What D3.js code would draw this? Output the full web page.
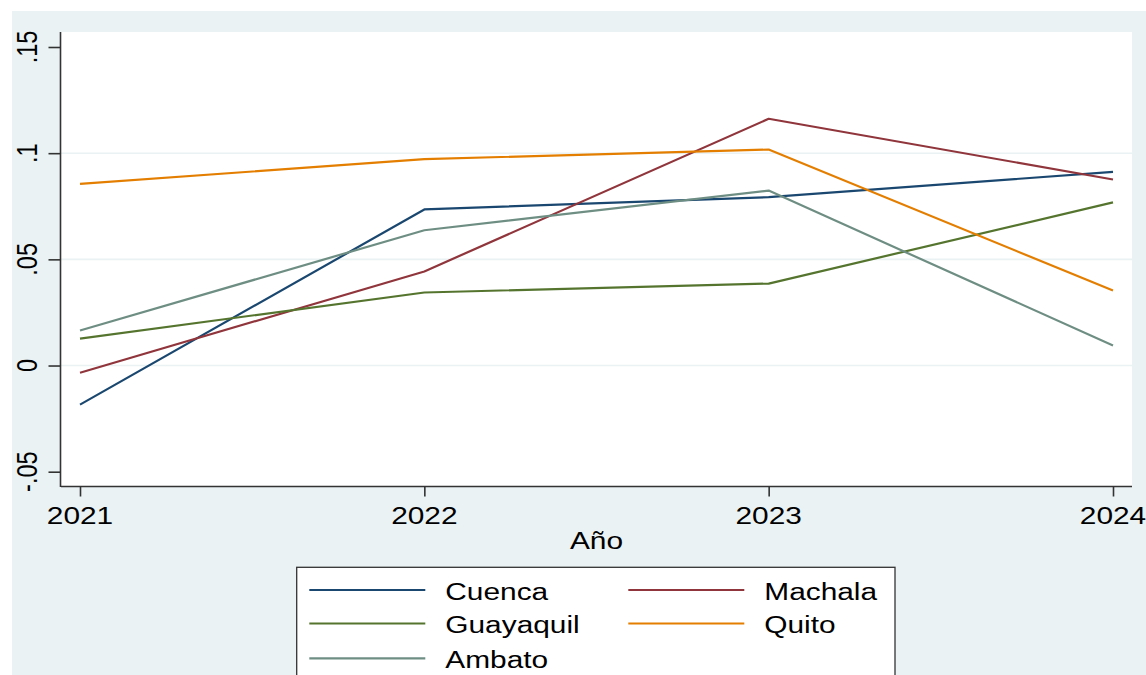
<!DOCTYPE html>
<html lang="es">
<head>
<meta charset="UTF-8">
<title>Año</title>
<script src="https://d3js.org/d3.v7.min.js"></script>
<style>
  body { margin: 0; background: #fff; }
  svg { display: block; font-family: "Liberation Sans", Arial, sans-serif; }
</style>
</head>
<body>
<div id="chart"></div>
<script>
// data
var years = [2021, 2022, 2023, 2024];
var cuenca    = [-0.0184, 0.0735, 0.0793, 0.0912];
var machala   = [-0.0034, 0.0443, 0.1162, 0.0876];
var guayaquil = [0.0127, 0.0344, 0.0386, 0.0768];
var quito     = [0.0855, 0.0972, 0.1017, 0.0353];
var ambato    = [0.0165, 0.0637, 0.0824, 0.0094];
var yTicks = [-0.05, 0, 0.05, 0.1, 0.15];
var yTickLabels = ["-.05", "0", ".05", ".1", ".15"];
var gridTicks = [0, 0.05, 0.1];

var series = [
  { name: "Cuenca", values: cuenca, color: "#1a476f" },
  { name: "Machala", values: machala, color: "#90353b" },
  { name: "Guayaquil", values: guayaquil, color: "#55752f" },
  { name: "Quito", values: quito, color: "#e37e00" },
  { name: "Ambato", values: ambato, color: "#6e8e84" }
];

var width = 1146, height = 675;
var stretch = 1.27;   // text in the original is drawn wide
var fontSize = 23.5;

var svg = d3.select("#chart").append("svg")
  .attr("width", width)
  .attr("height", height);

// graph region
svg.append("rect")
  .attr("x", 12).attr("y", 11)
  .attr("width", width - 12).attr("height", height - 11)
  .attr("fill", "#eaf2f3");

// plot region
var plot = { left: 61, right: 1132, top: 32, bottom: 487 };
svg.append("rect")
  .attr("x", plot.left).attr("y", plot.top)
  .attr("width", plot.right - plot.left).attr("height", plot.bottom - plot.top)
  .attr("fill", "#fff");

var x = d3.scaleLinear().domain([2021, 2024]).range([80, 1113]);
var y = d3.scaleLinear().domain([-0.05, 0.15]).range([471.7, 47]);

// grid lines
svg.selectAll(".grid")
  .data(gridTicks)
  .enter().append("line")
  .attr("x1", plot.left).attr("x2", plot.right)
  .attr("y1", function (d) { return y(d); })
  .attr("y2", function (d) { return y(d); })
  .attr("stroke", "#eaf2f3")
  .attr("stroke-width", 1.6);

// series lines
var line = d3.line()
  .x(function (d, i) { return x(years[i]); })
  .y(function (d) { return y(d); });

svg.selectAll(".series")
  .data(series)
  .enter().append("path")
  .attr("d", function (d) { return line(d.values); })
  .attr("fill", "none")
  .attr("stroke", function (d) { return d.color; })
  .attr("stroke-width", 2.2)
  .attr("stroke-linejoin", "round");

// y axis
var yAxis = svg.append("g")
  .attr("transform", "translate(" + (plot.left - 0.5) + ",0)")
  .call(d3.axisLeft(y).tickValues(yTicks).tickSize(12).tickFormat(""));
yAxis.select(".domain")
  .attr("d", "M0," + plot.top + "V" + plot.bottom)
  .attr("stroke", "#333").attr("stroke-width", 1.6);
yAxis.selectAll(".tick line").attr("stroke", "#333").attr("stroke-width", 1.6);

svg.selectAll(".ylab")
  .data(yTicks)
  .enter().append("text")
  .attr("transform", function (d) {
    return "translate(36.5," + y(d) + ") scale(" + stretch + ",1) rotate(-90)";
  })
  .attr("text-anchor", "middle")
  .attr("font-size", fontSize)
  .attr("fill", "#000")
  .text(function (d, i) { return yTickLabels[i]; });

// x axis
var xAxis = svg.append("g")
  .attr("transform", "translate(0," + (plot.bottom - 0.5) + ")")
  .call(d3.axisBottom(x).tickValues(years).tickSize(10).tickFormat(""));
xAxis.select(".domain")
  .attr("d", "M" + plot.left + ",0H" + plot.right)
  .attr("stroke", "#333").attr("stroke-width", 1.6);
xAxis.selectAll(".tick line").attr("stroke", "#333").attr("stroke-width", 1.6);

svg.selectAll(".xlab")
  .data(years)
  .enter().append("text")
  .attr("transform", function (d) {
    return "translate(" + x(d) + ",524) scale(" + stretch + ",1)";
  })
  .attr("text-anchor", "middle")
  .attr("font-size", fontSize)
  .attr("fill", "#000")
  .text(function (d) { return d; });

svg.append("text")
  .attr("transform", "translate(" + ((plot.left + plot.right) / 2) + ",549.3) scale(" + stretch + ",1)")
  .attr("text-anchor", "middle")
  .attr("font-size", fontSize)
  .attr("fill", "#000")
  .text("Año");

// legend
svg.append("rect")
  .attr("x", 296.7).attr("y", 567.3)
  .attr("width", 895 - 296.7).attr("height", 140)
  .attr("fill", "#fff")
  .attr("stroke", "#333").attr("stroke-width", 1.3);

var legendCols = [309.3, 628.3];
var legendRows = [590, 623.5, 658.3];

var items = svg.selectAll(".legend")
  .data(series)
  .enter().append("g")
  .attr("transform", function (d, i) {
    return "translate(" + legendCols[i % 2] + "," + legendRows[Math.floor(i / 2)] + ")";
  });

items.append("line")
  .attr("x1", 0).attr("x2", 116)
  .attr("stroke", function (d) { return d.color; })
  .attr("stroke-width", 2.2);

items.append("text")
  .attr("transform", "translate(136,9.5) scale(" + stretch + ",1)")
  .attr("font-size", fontSize)
  .attr("fill", "#000")
  .text(function (d) { return d.name; });
</script>
</body>
</html>
